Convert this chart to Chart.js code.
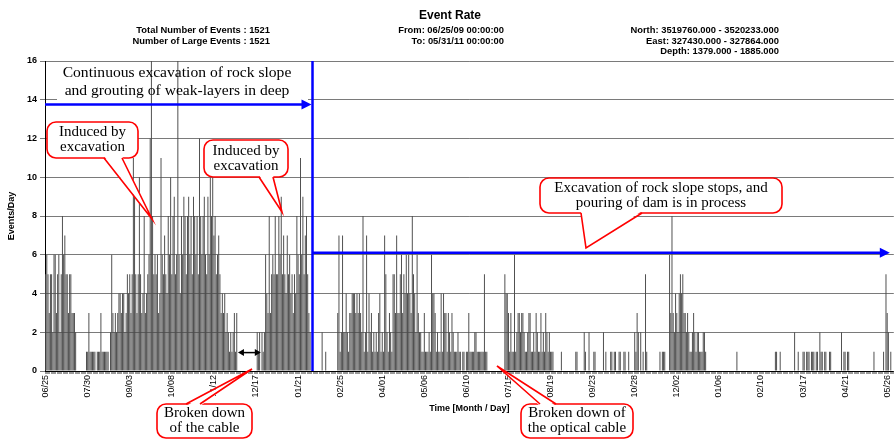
<!DOCTYPE html>
<html>
<head>
<meta charset="utf-8">
<title>Event Rate</title>
<script src="https://cdn.jsdelivr.net/npm/chart.js@4.4.0/dist/chart.umd.min.js"></script>
<style>
  html, body { margin: 0; padding: 0; background: #fff; overflow: hidden; }
  #wrap { width: 895px; height: 440px; overflow: hidden; }
</style>
</head>
<body>
<div id="wrap"><canvas id="eventChart" width="905" height="440"></canvas></div>
<script>
// daily event counts from 06/25/09 to 05/31/11, one array per month
const jun09 = [5,6,5,3,5,5];
const jul09 = [2,6,6,3,5,6,2,5,8,6,7,5,5,3,5,5,3,3,3,2,0,0,0,0,0,0,0,0,1,1,3];
const aug09 = [1,1,1,1,1,0,1,1,1,3,1,1,1,1,1,1,0,2,6,3,2,3,2,3,4,4,3,4,4,2,3];
const sep09 = [5,4,5,3,5,11,9,5,3,5,10,5,3,4,8,3,4,5,6,12,16,8,5,6,5,6,3,4,11,6];
const oct09 = [5,7,5,4,8,6,10,5,8,9,5,6,16,6,4,8,6,9,8,5,8,9,6,8,5,9,8,6,8,5,12];
const nov09 = [8,6,8,9,6,5,9,6,10,8,10,7,8,5,6,7,5,3,4,3,4,2,3,2,1,2,1,2,3,1];
const dec09 = [3,0,0,0,0,0,0,0,0,0,0,0,0,0,0,0,0,2,1,2,0,2,1,2,6,4,3,8,3,5,6];
const jan10 = [5,8,5,5,8,6,9,5,7,5,4,7,5,6,4,5,3,5,4,8,6,5,11,6,9,5,7,8,5,3,2];
const feb10 = [0,0,0,0,0,0,0,0,0,2,0,0,1,0,0,0,0,0,0,0,0,0,3,7,1,2,7,2];
const mar10 = [2,4,2,1,3,3,4,4,4,3,4,3,4,3,2,8,1,2,7,1,4,2,3,1,2,1,2,1,3,4,1];
const apr10 = [2,1,7,5,2,1,3,2,1,5,5,3,7,3,3,5,6,3,5,4,6,4,6,4,3,8,5,4,2,6];
const may10 = [3,2,2,1,1,3,1,1,1,2,1,6,4,4,3,1,2,1,1,4,1,4,3,3,1,3,2,1,3,2,1];
const jun10 = [1,1,2,1,1,0,1,1,0,1,1,3,1,1,1,1,2,2,1,1,1,1,1,1,5,1,1,0,0,0];
const jul10 = [0,0,0,0,0,0,0,0,0,0,0,5,4,4,3,1,3,1,1,6,1,2,3,3,2,3,3,2,1,1,2];
const aug10 = [3,3,1,1,2,1,3,2,1,1,3,1,2,1,3,2,1,2,1,1,1,0,0,0,0,0,0,1,0,0,0];
const sep10 = [0,0,0,0,0,0,0,0,1,1,0,0,0,0,0,2,1,0,0,2,0,0,0,1,1,0,0,0,0,0];
const oct10 = [0,2,0,1,0,0,0,1,1,0,1,1,0,0,1,1,0,0,1,1,0,0,1,0,0,0,0,2,1,3,2];
const nov10 = [0,2,0,1,0,5,1,0,0,0,0,0,0,0,0,0,0,1,0,1,1,1,0,0,0,6,3,8,3,2];
const dec10 = [4,3,2,4,5,4,5,3,3,2,3,2,1,1,2,3,2,1,2,2,1,1,1,2,2,1,0,0,0,0,0];
const jan11 = [0,0,0,0,0,0,0,0,0,0,0,0,0,0,0,0,0,0,0,0,1,0,0,0,0,0,0,0,0,0,0];
const feb11 = [0,0,0,0,0,0,0,0,0,0,0,0,0,0,0,0,0,0,0,0,0,1,1,0,0,1,0,0];
const mar11 = [0,0,0,0,0,0,0,0,0,2,0,0,1,0,0,0,1,1,0,1,1,1,0,1,1,1,0,1,1,0,2];
const apr11 = [1,1,0,1,1,0,0,1,1,0,0,0,0,0,0,0,0,2,0,1,1,0,1,1,0,0,0,0,0,0];
const may11 = [0,0,0,0,0,0,0,0,0,0,0,0,0,0,1,0,0,0,0,0,0,0,1,0,5,3,2,0,1,0,0];

// x axis labels, one every 35 days
const tickLabels = ['06/25','07/30','09/03','10/08','11/12','12/17','01/21','02/25','04/01','05/06',
  '06/10','07/15','08/19','09/23','10/28','12/02','01/06','02/10','03/17','04/21','05/26'];
const tickEvery = 35;

// day indexes used by the overlay marks
const dayWorkChange = 222;   // 02/02/10
const cableGap = [160, 179]; // 12/02/09 .. 12/21/09

const months = [jun09, jul09, aug09, sep09, oct09, nov09, dec09, jan10, feb10, mar10, apr10, may10,
  jun10, jul10, aug10, sep10, oct10, nov10, dec10, jan11, feb11, mar11, apr11, may11];
const counts = [].concat(...months);
const days = counts.map((v, i) => i);

const SANS = '"Liberation Sans", Arial, sans-serif';
const SERIF = '"Liberation Serif", "Times New Roman", serif';

function arrowHead(ctx, x, y, dir, len, half) {
  ctx.beginPath();
  ctx.moveTo(x, y);
  ctx.lineTo(x - dir * len, y - half);
  ctx.lineTo(x - dir * len, y + half);
  ctx.closePath();
  ctx.fill();
}

// rounded box with a wedge pointing at something
function callout(ctx, box, tail, lines) {
  ctx.save();
  ctx.lineWidth = 1.6;
  ctx.strokeStyle = '#ff0000';
  ctx.fillStyle = '#ffffff';
  ctx.beginPath();
  ctx.roundRect(box[0], box[1], box[2], box[3], 9);
  ctx.fill();
  ctx.stroke();
  const inset = tail[0][1] > box[1] + 1 ? -2 : 2;
  ctx.beginPath();
  ctx.moveTo(tail[0][0], tail[0][1] + inset);
  ctx.lineTo(tail[1][0], tail[1][1]);
  ctx.lineTo(tail[2][0], tail[2][1] + inset);
  ctx.closePath();
  ctx.fill();
  ctx.beginPath();
  ctx.moveTo(tail[0][0], tail[0][1]);
  ctx.lineTo(tail[1][0], tail[1][1]);
  ctx.lineTo(tail[2][0], tail[2][1]);
  ctx.stroke();
  ctx.fillStyle = '#000';
  ctx.font = '15px ' + SERIF;
  ctx.textAlign = 'center';
  ctx.textBaseline = 'middle';
  const cx = box[0] + box[2] / 2;
  const top = box[1] + box[3] / 2 - (lines.length - 1) * 7.5;
  lines.forEach((t, i) => ctx.fillText(t, cx, top + i * 15));
  ctx.restore();
}

const overlay = {
  id: 'overlay',
  beforeDatasetsDraw(chart) {
    // blank band behind the first stage note (covers the 14 grid line only)
    const ctx = chart.ctx;
    ctx.save();
    ctx.fillStyle = '#fff';
    ctx.fillRect(57, 63, 251, 38);
    ctx.restore();
  },
  afterDraw(chart) {
    const ctx = chart.ctx;
    const x = chart.scales.x, y = chart.scales.y;
    const area = chart.chartArea;
    ctx.save();

    // header
    ctx.fillStyle = '#000';
    ctx.textBaseline = 'middle';
    ctx.textAlign = 'center';
    ctx.font = 'bold 12px ' + SANS;
    ctx.fillText('Event Rate', 450, 16);
    ctx.font = 'bold 9.4px ' + SANS;
    ctx.textAlign = 'right';
    ctx.fillText('Total Number of Events : 1521', 270, 30);
    ctx.fillText('Number of Large Events : 1521', 270, 41);
    ctx.fillText('From: 06/25/09 00:00:00', 504, 30);
    ctx.fillText('To: 05/31/11 00:00:00', 504, 41);
    ctx.fillText('North: 3519760.000 - 3520233.000', 779, 30);
    ctx.fillText('East: 327430.000 - 327864.000', 779, 41);
    ctx.fillText('Depth: 1379.000 - 1885.000', 779, 51);

    // first work stage note
    ctx.font = '15.6px ' + SERIF;
    ctx.textAlign = 'center';
    ctx.fillText('Continuous excavation of rock slope', 177, 73);
    ctx.fillText('and grouting of weak-layers in deep', 177, 91);

    // blue stage markers
    const xc = x.getPixelForValue(dayWorkChange);
    const yTop = y.getPixelForValue(13.75);
    const yLow = y.getPixelForValue(6.1);
    ctx.strokeStyle = '#0000ff';
    ctx.fillStyle = '#0000ff';
    ctx.lineWidth = 2.5;
    ctx.beginPath();
    ctx.moveTo(xc, area.top);
    ctx.lineTo(xc, area.bottom);
    ctx.moveTo(area.left, yTop);
    ctx.lineTo(xc - 8, yTop);
    ctx.moveTo(xc, yLow);
    ctx.lineTo(area.right - 10, yLow);
    ctx.stroke();
    arrowHead(ctx, xc - 1, yTop, 1, 10, 5);
    arrowHead(ctx, area.right - 4, yLow, 1, 10, 5);

    // cable outage span
    const g0 = x.getPixelForValue(cableGap[0]);
    const g1 = x.getPixelForValue(cableGap[1]);
    const yg = y.getPixelForValue(0.95);
    ctx.strokeStyle = '#000';
    ctx.fillStyle = '#000';
    ctx.lineWidth = 1.5;
    ctx.beginPath();
    ctx.moveTo(g0 + 4, yg);
    ctx.lineTo(g1 - 4, yg);
    ctx.stroke();
    arrowHead(ctx, g0, yg, -1, 6, 3.5);
    arrowHead(ctx, g1, yg, 1, 6, 3.5);

    // callouts
    callout(ctx, [47, 122, 91, 36], [[104, 158], [152, 219], [122, 158]], ['Induced by', 'excavation']);
    callout(ctx, [204, 140, 84, 37], [[259, 177], [282, 212], [273, 177]], ['Induced by', 'excavation']);
    callout(ctx, [540, 178, 242, 35], [[581, 213], [586, 248], [642, 213]],
      ['Excavation of rock slope stops, and', 'pouring of dam is in process']);
    callout(ctx, [157, 404, 95, 34], [[186, 404], [252, 369], [200, 404]], ['Broken down', 'of the cable']);
    callout(ctx, [521, 404, 112, 34], [[540, 404], [497, 366], [556, 404]], ['Broken down of', 'the optical cable']);

    ctx.restore();
  }
};

const ctx = document.getElementById('eventChart');
const eventChart = new Chart(ctx, {
  type: 'bar',
  data: {
    labels: days,
    datasets: [{
      label: 'Events/Day',
      data: counts,
      backgroundColor: '#4a4a4a',
      borderWidth: 0,
      barPercentage: 0.8,
      categoryPercentage: 1
    }]
  },
  options: {
    responsive: false,
    animation: false,
    layout: { padding: { left: 0, top: 61, right: 3, bottom: 24 } },
    plugins: {
      legend: { display: false },
      tooltip: { enabled: false }
    },
    scales: {
      x: {
        afterFit: s => { s.height = 45; },
        grid: { display: true, drawOnChartArea: false, drawTicks: true, tickLength: 3, color: '#333', lineWidth: 0.5 },
        border: { display: true, color: '#000', width: 1 },
        ticks: {
          autoSkip: false,
          minRotation: 90,
          maxRotation: 90,
          padding: 1,
          color: '#000',
          font: { family: SANS, size: 9 },
          callback: (v, i) => (i % tickEvery === 0 ? tickLabels[i / tickEvery] : '')
        },
        title: {
          display: true,
          text: 'Time [Month / Day]',
          color: '#000',
          font: { family: SANS, size: 9, weight: 'bold' },
          padding: { top: 0, bottom: 2 }
        }
      },
      y: {
        min: 0,
        max: 16,
        afterFit: s => { s.width = 45; },
        grid: { color: '#7a7a7a', lineWidth: 1, tickLength: 5 },
        border: { display: true, color: '#000', width: 1 },
        ticks: {
          stepSize: 2,
          padding: 3,
          color: '#000',
          font: { family: SANS, size: 9, weight: 'bold' }
        },
        title: {
          display: true,
          text: 'Events/Day',
          color: '#000',
          font: { family: SANS, size: 9, weight: 'bold' },
          padding: { top: 6, bottom: 0 }
        }
      }
    }
  },
  plugins: [overlay]
});
</script>
</body>
</html>
